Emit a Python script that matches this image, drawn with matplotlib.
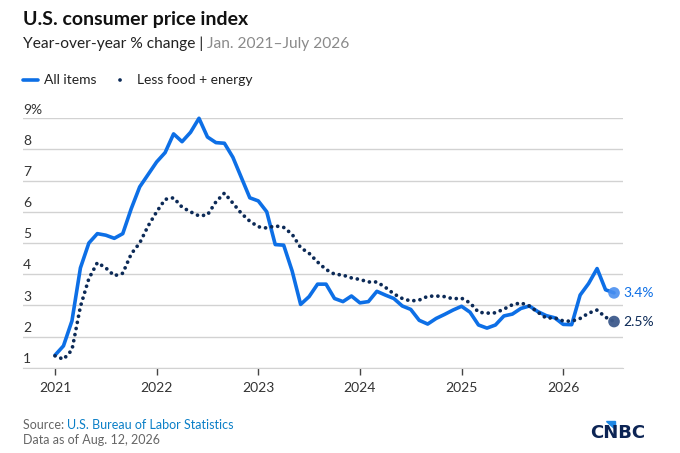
import numpy as np
import matplotlib.pyplot as plt
from matplotlib.patches import Polygon

# Monthly year-over-year % change, Jan. 2021 - July 2026
all_items = [1.4, 1.7, 2.5, 4.2, 5.0, 5.3, 5.25, 5.15, 5.3, 6.1, 6.8, 7.2,
             7.6, 7.9, 8.5, 8.25, 8.55, 9.0, 8.4, 8.22, 8.2, 7.75, 7.1, 6.45,
             6.35, 6.0, 4.95, 4.93, 4.1, 3.03, 3.28, 3.68, 3.68, 3.22, 3.12, 3.3,
             3.08, 3.12, 3.45, 3.33, 3.22, 2.98, 2.87, 2.52, 2.4, 2.58, 2.71, 2.85,
             2.97, 2.78, 2.37, 2.27, 2.37, 2.66, 2.72, 2.9, 2.98, 2.8, 2.67, 2.6,
             2.39, 2.38, 3.33, 3.7, 4.18, 3.5, 3.4]
core = [1.38, 1.27, 1.57, 2.96, 3.86, 4.37, 4.2, 3.95, 4.03, 4.65, 5.0, 5.55,
        6.0, 6.4, 6.45, 6.15, 6.0, 5.87, 5.9, 6.32, 6.6, 6.28, 5.95, 5.7,
        5.52, 5.48, 5.55, 5.5, 5.28, 4.85, 4.67, 4.39, 4.15, 4.0, 3.97, 3.88,
        3.83, 3.75, 3.75, 3.58, 3.37, 3.22, 3.14, 3.17, 3.29, 3.3, 3.28, 3.21,
        3.23, 3.08, 2.78, 2.75, 2.76, 2.88, 3.02, 3.08, 2.98, 2.78, 2.59, 2.6,
        2.5, 2.49, 2.58, 2.75, 2.85, 2.62, 2.48]
years = ["2021", "2022", "2023", "2024", "2025", "2026"]
y_ticks = [1, 2, 3, 4, 5, 6, 7, 8, 9]

months = np.arange(len(all_items))

blue = "#0d6fe6"
navy = "#0c2a57"
grid_col = "#d2d2d2"
dots = (0, (0.01, 1.65))

plt.rcParams['font.family'] = ['Lato', 'DejaVu Sans']

fig = plt.figure(figsize=(6.8, 4.53), dpi=100)
ax = fig.add_axes([23/680, 1 - 367.7/453, 600/680, (367.7 - 118.3)/453])

ax.plot(months, all_items, color=blue, lw=2.6, solid_joinstyle='round',
        solid_capstyle='round', clip_on=False, zorder=3)
ax.plot(months, core, color=navy, lw=2.7, linestyle=dots,
        dash_capstyle='round', clip_on=False, zorder=3)

# end markers and labels
ax.scatter([months[-1]], [all_items[-1]], s=70, color="#4a8ff0", alpha=0.9,
           zorder=4, clip_on=False, edgecolor='none')
ax.scatter([months[-1]], [core[-1]], s=70, color="#3e5b8c", alpha=0.95,
           zorder=4, clip_on=False, edgecolor='none')
ax.annotate(f"{all_items[-1]:.1f}%", (months[-1], all_items[-1]), xytext=(7, 0),
            textcoords='offset points', va='center', ha='left', fontsize=10,
            color=blue, annotation_clip=False)
ax.annotate(f"{core[-1]:.1f}%", (months[-1], core[-1]), xytext=(7, 0),
            textcoords='offset points', va='center', ha='left', fontsize=10,
            color=navy, annotation_clip=False)

ax.set_xlim((23 - 55) / 8.47, (623 - 55) / 8.47)
ax.set_ylim(1, 9)

# grid
ax.set_yticks(y_ticks)
ax.yaxis.grid(True, color=grid_col, lw=1)
ax.tick_params(axis='y', length=0, labelleft=False)
for v in y_ticks:
    lab = f"{v}%" if v == 9 else str(v)
    ax.annotate(lab, (0, v), xycoords=ax.get_yaxis_transform(), xytext=(0, 2),
                textcoords='offset points', ha='left', va='bottom',
                fontsize=10, color="#333333", annotation_clip=False)

ax.set_xticks(np.arange(len(years)) * 12)
ax.set_xticklabels(years)
ax.tick_params(axis='x', length=5, width=1, color="#444444", labelsize=10,
               labelcolor="#333333", pad=5)

for s in ['top', 'right', 'left']:
    ax.spines[s].set_visible(False)
ax.spines['bottom'].set_color(grid_col)
ax.set_axisbelow(True)

# titles
fig.text(23/680, 1 - 20/453, "U.S. consumer price index", fontsize=14,
         fontweight='bold', color="#111111", va='center', ha='left')
t = fig.text(23/680, 1 - 44/453, "Year-over-year % change | ", fontsize=11.2,
             color="#222222", va='center', ha='left')
fig.canvas.draw()
bb = t.get_window_extent()
fig.text(bb.x1 / 680, 1 - 44/453, "Jan. 2021\u2013July 2026", fontsize=11.2,
         color="#8a8a8a", va='center', ha='left')

# legend
fig.add_artist(plt.Line2D([23/680, 38/680], [1 - 80/453] * 2, color=blue, lw=2.6,
                          solid_capstyle='round'))
fig.text(44/680, 1 - 80/453, "All items", fontsize=10, color="#222222",
         va='center', ha='left')
fig.add_artist(plt.Line2D([120/680, 126/680], [1 - 80/453] * 2, color=navy,
                          lw=2.7, linestyle=(0, (0.01, 2.0)),
                          dash_capstyle='round'))
fig.text(137/680, 1 - 80/453, "Less food + energy", fontsize=10,
         color="#222222", va='center', ha='left')

# footer
s = fig.text(23/680, 1 - 425/453, "Source: ", fontsize=9, color="#666666",
             va='center', ha='left')
fig.canvas.draw()
bb = s.get_window_extent()
fig.text(bb.x1 / 680, 1 - 425/453, "U.S. Bureau of Labor Statistics", fontsize=9,
         color="#0a7fc7", va='center', ha='left')
fig.text(23/680, 1 - 440/453, "Data as of Aug. 12, 2026", fontsize=9,
         color="#666666", va='center', ha='left')

# logo
fig.text(590/680, 1 - 433/453, "CNBC", fontsize=13, fontweight='bold',
         family='DejaVu Sans', color="#0c2454", va='center', ha='left')
fig.add_artist(Polygon([[606/680, 1 - 421/453], [615/680, 1 - 421/453],
                        [615/680, 1 - 429/453]], closed=True,
                       transform=fig.transFigure, color="#1e88e5"))

fig.savefig("out.png", dpi=100)
